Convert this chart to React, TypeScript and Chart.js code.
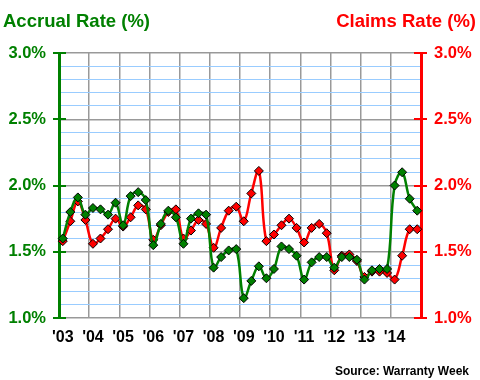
import { useEffect, useRef } from "react";
import { Chart, registerables } from "chart.js";

Chart.register(...registerables);

const yearLabels = ["'03", "'04", "'05", "'06", "'07", "'08", "'09", "'10", "'11", "'12", "'13", "'14"];
const quarterNames = ["Q1", "Q2", "Q3", "Q4"];

const accrualRate = [
  1.60, 1.80, 1.91, 1.78, 1.83, 1.82, 1.78, 1.87,
  1.70, 1.92, 1.95, 1.89, 1.55, 1.71, 1.81, 1.76,
  1.56, 1.75, 1.79, 1.78, 1.38, 1.46, 1.51, 1.52,
  1.15, 1.28, 1.39, 1.30, 1.37, 1.54, 1.52, 1.47,
  1.29, 1.42, 1.46, 1.46, 1.38, 1.46, 1.46, 1.44,
  1.29, 1.36, 1.37, 1.37, 2.00, 2.10, 1.90, 1.81,
];

const claimsRate = [
  1.58, 1.73, 1.88, 1.74, 1.56, 1.60, 1.67, 1.75,
  1.69, 1.76, 1.85, 1.82, 1.59, 1.70, 1.80, 1.82,
  1.60, 1.66, 1.74, 1.71, 1.53, 1.68, 1.81, 1.84,
  1.73, 1.94, 2.11, 1.58, 1.63, 1.70, 1.75, 1.68,
  1.57, 1.68, 1.71, 1.64, 1.36, 1.47, 1.48, 1.43,
  1.31, 1.35, 1.35, 1.34, 1.29, 1.47, 1.67, 1.67,
];

const majorTicks = [1.0, 1.5, 2.0, 2.5, 3.0];

const GREEN = "#008000";
const RED = "#FF0000";
const GRID_GRAY = "#999999";
const GRID_BLUE = "#99CCFF";
const FONT = "'Liberation Sans', Arial, sans-serif";

const quarterLabels: string[] = [];
yearLabels.forEach((y) => quarterNames.forEach((q) => quarterLabels.push(`${q} ${y}`)));

const decorPlugin = {
  id: "decor",
  beforeDatasetsDraw(chart: any) {
    const ctx = chart.ctx;
    const y = chart.scales.y;
    const y2 = chart.scales.y2;
    ctx.save();
    ctx.lineWidth = 2;
    for (const v of majorTicks) {
      const py = Math.round(y.getPixelForValue(v));
      ctx.strokeStyle = GREEN;
      ctx.beginPath();
      ctx.moveTo(y.right - 6, py);
      ctx.lineTo(y.right + 7, py);
      ctx.stroke();
      const py2 = Math.round(y2.getPixelForValue(v));
      ctx.strokeStyle = RED;
      ctx.beginPath();
      ctx.moveTo(y2.left - 7, py2);
      ctx.lineTo(y2.left + 6, py2);
      ctx.stroke();
    }
    ctx.restore();
  },
  afterDraw(chart: any) {
    const ctx = chart.ctx;
    ctx.save();
    ctx.textBaseline = "alphabetic";
    ctx.font = `bold 18.5px ${FONT}`;
    ctx.fillStyle = GREEN;
    ctx.textAlign = "left";
    ctx.fillText("Accrual Rate (%)", 3, 27);
    ctx.fillStyle = RED;
    ctx.textAlign = "right";
    ctx.fillText("Claims Rate (%)", 476, 27);
    ctx.font = `bold 12px ${FONT}`;
    ctx.fillStyle = "#000000";
    ctx.fillText("Source: Warranty Week", 469, 375);
    ctx.restore();
  },
};

const yTickLabel = (v: any) => (Math.round(Number(v) * 10) % 5 === 0 ? Number(v).toFixed(1) + "%" : "");
const isMajor = (v: number) => Math.round(v * 10) % 5 === 0;

export default function App() {
  const canvasRef = useRef<HTMLCanvasElement | null>(null);

  useEffect(() => {
    if (!canvasRef.current) return;
    const chart = new Chart(canvasRef.current, {
      type: "line",
      data: {
        labels: quarterLabels,
        datasets: [
          {
            label: "Accrual Rate (%)",
            data: accrualRate,
            yAxisID: "y",
            borderColor: GREEN,
            borderWidth: 2.5,
            tension: 0.4,
            pointStyle: "rectRot",
            pointRadius: 4.5,
            pointBackgroundColor: GREEN,
            pointBorderColor: "#000000",
            pointBorderWidth: 1,
            clip: false,
          },
          {
            label: "Claims Rate (%)",
            data: claimsRate,
            yAxisID: "y2",
            borderColor: RED,
            borderWidth: 2.5,
            tension: 0.4,
            pointStyle: "rectRot",
            pointRadius: 4.5,
            pointBackgroundColor: RED,
            pointBorderColor: "#000000",
            pointBorderWidth: 1,
            clip: false,
          },
        ],
      },
      options: {
        responsive: false,
        animation: false,
        layout: { padding: { top: 53, left: 0, right: 0, bottom: 0 } },
        plugins: { legend: { display: false }, tooltip: { enabled: false } },
        scales: {
          x: {
            type: "category",
            offset: true,
            afterFit: (s: any) => {
              s.height = 62;
            },
            border: { display: false },
            grid: {
              offset: true,
              drawTicks: false,
              lineWidth: 1.5,
              color: (c: any) =>
                c.index !== undefined && c.index % 4 === 0 && c.index !== 0 ? GRID_GRAY : "rgba(0,0,0,0)",
            },
            ticks: {
              autoSkip: false,
              maxRotation: 0,
              padding: 10,
              color: "#000000",
              font: { family: FONT, size: 16, weight: "bold" },
              callback: (_v: any, i: number) => (i % 4 === 0 ? yearLabels[i / 4] : ""),
            },
          },
          y: {
            type: "linear",
            position: "left",
            min: 1,
            max: 3,
            afterFit: (s: any) => {
              s.width = 59;
            },
            border: { color: GREEN, width: 3 },
            grid: {
              drawTicks: false,
              lineWidth: (c: any) => (isMajor(c.tick.value) ? 1.5 : 1),
              color: (c: any) => (isMajor(c.tick.value) ? GRID_GRAY : GRID_BLUE),
            },
            ticks: {
              stepSize: 0.1,
              autoSkip: false,
              padding: 13,
              color: GREEN,
              font: { family: FONT, size: 16.5, weight: "bold" },
              callback: yTickLabel,
            },
          },
          y2: {
            type: "linear",
            position: "right",
            min: 1,
            max: 3,
            afterFit: (s: any) => {
              s.width = 59;
            },
            border: { color: RED, width: 3 },
            grid: { drawOnChartArea: false, drawTicks: false },
            ticks: {
              stepSize: 0.1,
              autoSkip: false,
              padding: 13,
              color: RED,
              font: { family: FONT, size: 16.5, weight: "bold" },
              callback: yTickLabel,
            },
          },
        },
      },
      plugins: [decorPlugin],
    } as any);
    return () => chart.destroy();
  }, []);

  return (
    <div style={{ position: "absolute", left: 0, top: 0, width: 480, height: 380, background: "#ffffff" }}>
      <canvas ref={canvasRef} width={480} height={380} />
    </div>
  );
}
